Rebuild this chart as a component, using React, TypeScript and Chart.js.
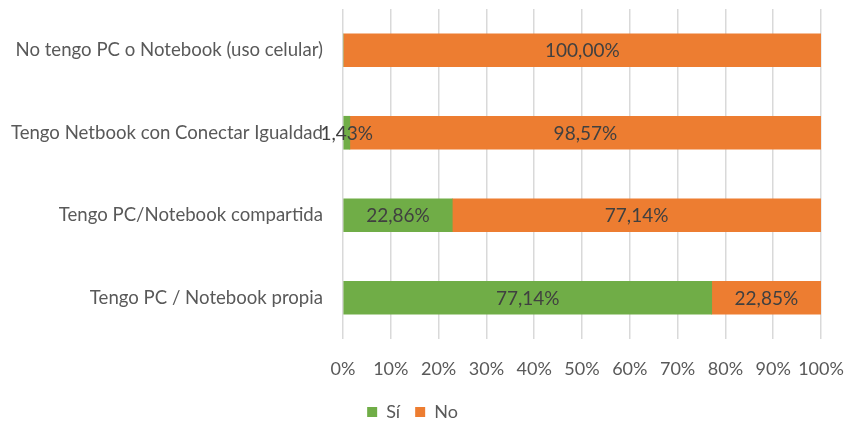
import React, { useEffect, useRef } from "react";
import { Chart, registerables } from "chart.js";

Chart.register(...registerables);

const categories = [
  "No tengo PC o Notebook (uso celular)",
  "Tengo Netbook con Conectar Igualdad",
  "Tengo PC/Notebook compartida",
  "Tengo PC / Notebook propia",
];
const siValues = [0, 1.43, 22.86, 77.14];
const noValues = [100, 98.57, 77.14, 22.85];
const xTicks = [0, 10, 20, 30, 40, 50, 60, 70, 80, 90, 100];

const FONT = "Lato, 'Open Sans', sans-serif";
const TEXT = "#595959";

const labelPlugin = {
  id: "barLabels",
  afterDatasetsDraw(chart: any) {
    const ctx = chart.ctx;
    ctx.save();
    ctx.font = `19px ${FONT}`;
    ctx.fillStyle = "#404040";
    ctx.textAlign = "center";
    ctx.textBaseline = "middle";
    chart.data.datasets.forEach((ds: any, di: number) => {
      const meta = chart.getDatasetMeta(di);
      meta.data.forEach((el: any, i: number) => {
        const v = ds.data[i];
        if (!v) return;
        const x = (el.x + el.base) / 2;
        const txt = v.toFixed(2).replace(".", ",") + "%";
        ctx.fillText(txt, x, el.y + 1);
      });
    });
    ctx.restore();
  },
};

export default function App() {
  const ref = useRef<HTMLCanvasElement>(null);
  useEffect(() => {
    document.body.style.margin = "0";
    const chart = new Chart(ref.current!, {
      type: "bar",
      data: {
        labels: categories,
        datasets: [
          { label: "Sí", data: siValues, backgroundColor: "#70AD47", barThickness: 33 },
          { label: "No", data: noValues, backgroundColor: "#ED7D31", barThickness: 33 },
        ],
      },
      options: {
        indexAxis: "y",
        animation: false,
        responsive: false,
        layout: { padding: { top: 9, right: 29, left: 4, bottom: -9 } },
        scales: {
          x: {
            stacked: true,
            min: 0,
            max: 100,
            afterBuildTicks: (axis: any) => {
              axis.ticks = xTicks.map((v) => ({ value: v }));
            },
            afterFit: (axis: any) => {
              axis.height = 49;
              axis.paddingLeft = 0;
              axis.paddingRight = 0;
            },
            ticks: {
              callback: (v: any) => v + "%",
              color: TEXT,
              font: { size: 18, family: FONT },
              padding: 19,
              maxRotation: 0,
              autoSkip: false,
            },
            grid: { color: "#d9d9d9", lineWidth: 1.5, drawTicks: false },
            border: { display: false },
          },
          y: {
            stacked: true,
            afterFit: (axis: any) => {
              axis.paddingTop = 0;
              axis.paddingBottom = 0;
              axis.width = 339;
            },
            ticks: {
              color: TEXT,
              font: { size: 18.6, family: FONT },
              padding: 20,
            },
            grid: { display: false, drawTicks: false },
            border: { display: false },
          },
        },
        plugins: {
          legend: {
            position: "bottom",
            labels: {
              boxWidth: 10,
              boxHeight: 10,
              color: TEXT,
              font: { size: 18, family: FONT },
              padding: 15,
            },
          },
          tooltip: { enabled: false },
        },
      },
      plugins: [labelPlugin],
    });
    return () => chart.destroy();
  }, []);
  return <canvas ref={ref} width={850} height={422} style={{ display: "block" }} />;
}
